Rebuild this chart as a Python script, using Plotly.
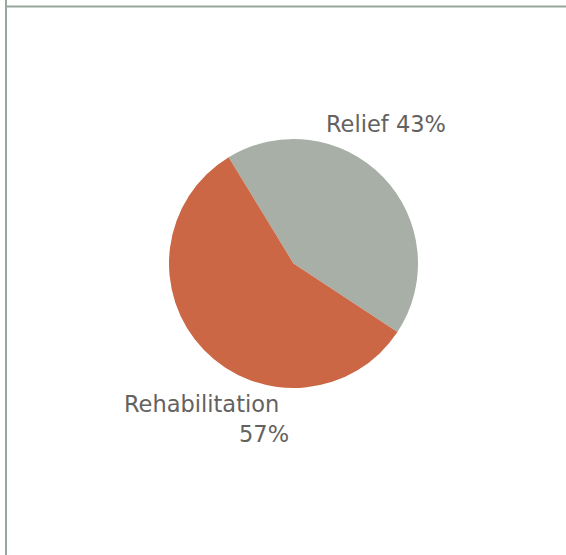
import plotly.graph_objects as go

labels = ["Relief", "Rehabilitation"]
values = [43, 57]
colors = ["#A7AFA7", "#CB6745"]

W, H = 566, 555
TEXT = "#646260"
FONT = "DejaVu Sans"

fig = go.Figure()
fig.add_trace(go.Pie(
    labels=labels, values=values, sort=False, direction="clockwise",
    rotation=-31.4, marker=dict(colors=colors, line=dict(width=0)),
    textinfo="none", hoverinfo="label+percent", showlegend=False,
    domain=dict(x=[169/W, 418/W], y=[1-388/H, 1-139/H]),
))

def px(x): return x / W
def py(y): return 1 - y / H

fig.add_annotation(x=px(324), y=py(124), xref="paper", yref="paper",
                   text=f"{labels[0]} {values[0]}%", showarrow=False,
                   xanchor="left", yanchor="middle",
                   font=dict(family=FONT, size=22.5, color=TEXT))
fig.add_annotation(x=px(122), y=py(404), xref="paper", yref="paper",
                   text=labels[1], showarrow=False,
                   xanchor="left", yanchor="middle",
                   font=dict(family=FONT, size=22.5, color=TEXT))
fig.add_annotation(x=px(291), y=py(434), xref="paper", yref="paper",
                   text=f"{values[1]}%", showarrow=False,
                   xanchor="right", yanchor="middle",
                   font=dict(family=FONT, size=22.5, color=TEXT))

LINE = "#9AA59C"
fig.add_shape(type="line", xref="paper", yref="paper",
              x0=px(5), x1=1, y0=py(6.5), y1=py(6.5),
              line=dict(color=LINE, width=2))
fig.add_shape(type="line", xref="paper", yref="paper",
              x0=px(6), x1=px(6), y0=0, y1=1,
              line=dict(color=LINE, width=2))

fig.update_layout(width=W, height=H, margin=dict(l=0, r=0, t=0, b=0),
                  paper_bgcolor="white", plot_bgcolor="white")
fig.write_html("out.html")
